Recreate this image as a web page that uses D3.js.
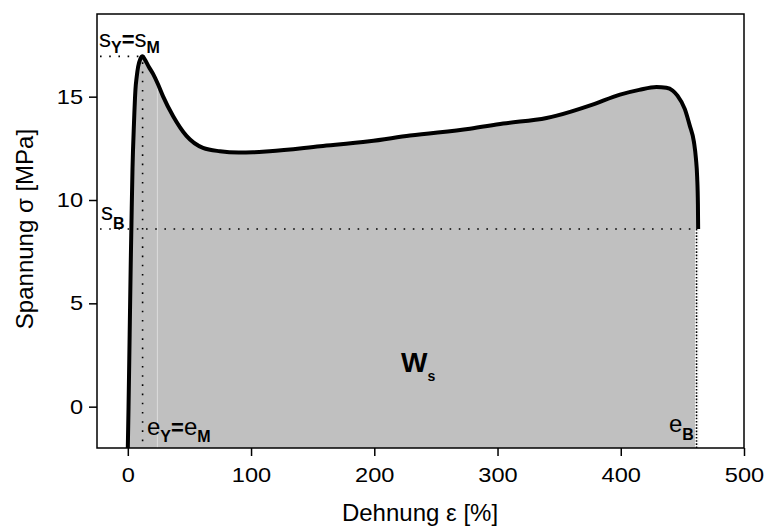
<!DOCTYPE html>
<html>
<head>
<meta charset="utf-8">
<script src="https://cdn.jsdelivr.net/npm/d3@7/dist/d3.min.js"></script>
<style>
  html, body { margin: 0; padding: 0; background: #fff; }
  svg { display: block; }
  text { font-family: "Liberation Sans", Arial, Helvetica, sans-serif; }
</style>
</head>
<body>
<svg id="chart" width="767" height="529"></svg>
<script>
// ---- data ----
const xTicks = [0, 100, 200, 300, 400, 500];
const yTicks = [0, 5, 10, 15];
const strain = [0, 0.6, 1.5, 2.4, 3.0, 3.8, 5.0, 6.2, 7.2, 8.4, 10, 12, 14, 17, 20.5, 24.5, 28.7, 36.8, 47.6, 61, 74.7, 90, 101.6, 115, 156, 196, 229, 277.6, 304.6, 339.8, 348, 376.5, 399.4, 415, 429, 437, 442, 446, 452, 456, 459.4, 461, 462, 462.6, 462.8];
const stress = [-2, 0, 3.5, 7, 9, 11.5, 13.7, 15.34, 15.95, 16.46, 16.8, 16.95, 16.78, 16.45, 16.1, 15.6, 15.0, 14.05, 13.1, 12.52, 12.36, 12.3, 12.31, 12.36, 12.6, 12.84, 13.12, 13.45, 13.7, 13.97, 14.08, 14.6, 15.1, 15.33, 15.47, 15.43, 15.3, 15.05, 14.4, 13.6, 12.8, 12.0, 11.1, 9.8, 8.6];
const sY = 16.95, eY = 12, sB = 8.6, eB = 461.5, eFaint = 24;
const xDomain = [-25, 500], yDomain = [-2, 19];
const xTitle = "Dehnung ε [%]";
const yTitle = "Spannung σ [MPa]";

// ---- layout ----
const L = 97, R = 744, T = 14, B = 448;
const x = d3.scaleLinear().domain(xDomain).range([L, R]);
const y = d3.scaleLinear().domain(yDomain).range([B, T]);
const pts = strain.map((d, i) => [d, stress[i]]);

const svg = d3.select("#chart");
const FONT = '"Liberation Sans", Arial, Helvetica, sans-serif';

const defs = svg.append("defs");
defs.append("clipPath").attr("id", "plot")
  .append("rect").attr("x", L).attr("y", T).attr("width", R - L).attr("height", B - T);

const areaGen = d3.area().x(d => x(d[0])).y0(y(yDomain[0])).y1(d => y(d[1])).curve(d3.curveMonotoneX);
const lineGen = d3.line().x(d => x(d[0])).y(d => y(d[1])).curve(d3.curveMonotoneX);

defs.append("clipPath").attr("id", "areaClip").append("path").attr("d", areaGen(pts));

const g = svg.append("g").attr("clip-path", "url(#plot)");
g.append("path").attr("d", areaGen(pts)).attr("fill", "#c0c0c0");

// faint light vertical inside area
g.append("line").attr("clip-path", "url(#areaClip)")
  .attr("x1", x(eFaint)).attr("x2", x(eFaint)).attr("y1", y(yDomain[1])).attr("y2", y(yDomain[0]))
  .attr("stroke", "#dcdcdc").attr("stroke-width", 1);

const dot = sel => sel.attr("stroke", "#000").attr("stroke-width", 1.6).attr("stroke-dasharray", "1.6,7.6").attr("fill", "none");
g.append("line").attr("x1", x(xDomain[0]) + 3).attr("x2", x(eY)).attr("y1", y(sY)).attr("y2", y(sY)).call(dot);
g.append("line").attr("x1", x(eY)).attr("x2", x(eY)).attr("y1", y(sY) + 6).attr("y2", y(yDomain[0])).call(dot);
g.append("line").attr("x1", x(xDomain[0]) + 3).attr("x2", x(eB)).attr("y1", y(sB)).attr("y2", y(sB)).call(dot);
g.append("line").attr("x1", x(eB)).attr("x2", x(eB)).attr("y1", y(sB)).attr("y2", y(yDomain[0]))
  .attr("stroke", "#fff").attr("stroke-width", 3);
g.append("line").attr("x1", x(eB)).attr("x2", x(eB)).attr("y1", y(sB)).attr("y2", y(yDomain[0]))
  .attr("stroke", "#000").attr("stroke-width", 1.6).attr("stroke-dasharray", "1.6,1.6");

// curve
g.append("path").attr("d", lineGen(pts)).attr("fill", "none").attr("stroke", "#000")
  .attr("stroke-width", 4).attr("stroke-linejoin", "round").attr("stroke-linecap", "butt");

// frame
svg.append("rect").attr("x", L).attr("y", T).attr("width", R - L).attr("height", B - T)
  .attr("fill", "none").attr("stroke", "#000").attr("stroke-width", 1.5);

// axes
const TS = 8, SX = 1.18;
const xAxis = d3.axisBottom(x).tickValues(xTicks).tickSize(TS).tickSizeOuter(0).tickPadding(12).tickFormat(d3.format("d"));
const yAxis = d3.axisLeft(y).tickValues(yTicks).tickSize(TS).tickSizeOuter(0).tickPadding(6).tickFormat(d3.format("d"));
const gx = svg.append("g").attr("transform", `translate(0,${B})`).call(xAxis);
const gy = svg.append("g").attr("transform", `translate(${L},0)`).call(yAxis);
[gx, gy].forEach(a => {
  a.select(".domain").remove();
  a.selectAll(".tick line").attr("stroke", "#000").attr("stroke-width", 1.5);
  a.selectAll(".tick text").attr("fill", "#000").style("font-family", FONT).style("font-size", "20px")
    .attr("transform", `scale(${SX},1)`);
});
gy.selectAll(".tick text").attr("x", -(TS + 6) / SX);

// axis titles
svg.append("text").attr("x", 420).attr("y", 521).attr("text-anchor", "middle")
  .style("font-size", "24px").text(xTitle);
svg.append("text").attr("transform", "translate(33,229) rotate(-90)").attr("text-anchor", "middle")
  .style("font-size", "24px").text(yTitle);

// annotations
function label(xp, yp, parts) {
  const t = svg.append("text").attr("x", xp).attr("y", yp);
  parts.forEach(p => {
    t.append("tspan").attr("dy", p.dy || 0).style("font-size", p.size + "px")
      .style("font-weight", p.bold ? "bold" : "normal").text(p.t);
  });
  return t;
}
label(99, 47, [
  {t: "s", size: 24},
  {t: "Y", size: 16, bold: true, dy: 6},
  {t: "=", size: 22, bold: true, dy: -6},
  {t: "s", size: 24},
  {t: "M", size: 16, bold: true, dy: 6}
]);
label(101, 220, [
  {t: "s", size: 24},
  {t: "B", size: 16, bold: true, dy: 9}
]);
label(147, 435, [
  {t: "e", size: 24},
  {t: "Y", size: 16, bold: true, dy: 7},
  {t: "=", size: 22, bold: true, dy: -7},
  {t: "e", size: 24},
  {t: "M", size: 16, bold: true, dy: 7}
]);
label(669, 432, [
  {t: "e", size: 24},
  {t: "B", size: 16, bold: true, dy: 8}
]);
label(401, 372, [
  {t: "W", size: 28, bold: true},
  {t: "s", size: 14, bold: true, dy: 9}
]);
</script>
</body>
</html>
